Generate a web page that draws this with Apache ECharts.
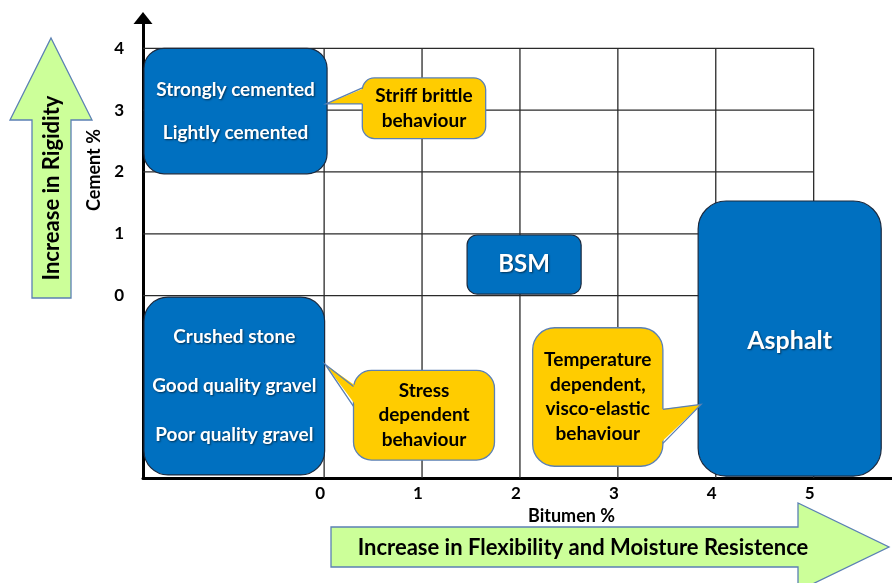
<!DOCTYPE html>
<html>
<head>
<meta charset="utf-8">
<script src="https://cdn.jsdelivr.net/npm/echarts@6/dist/echarts.min.js"></script>
<style>
  html, body { margin: 0; padding: 0; background: #fff; }
  #chart { width: 892px; height: 583px; }
</style>
</head>
<body>
<div id="chart"></div>
<script>
const bitumenTicks = [0, 1, 2, 3, 4, 5];
const cementTicks = [0, 1, 2, 3, 4];

// material zones, bitumen % (x) from/to and cement % (y) from/to
const zoneLabels = [
    ['Strongly cemented', 'Lightly cemented'],
    ['Crushed stone', 'Good quality gravel', 'Poor quality gravel'],
    ['BSM'],
    ['Asphalt']
];
const zoneX0 = [-1.84, -1.84, 1.46, 3.82];
const zoneX1 = [0.03, 0.005, 2.625, 5.69];
const zoneY0 = [1.97, -2.90, 0.024, -2.92];
const zoneY1 = [4.0, -0.024, 0.98, 1.53];
const zoneTextY = [null, null, null, -0.74];

// behaviour callouts
const noteLabels = [
    ['Striff brittle', 'behaviour'],
    ['Stress', 'dependent', 'behaviour'],
    ['Temperature', 'dependent,', 'visco-elastic', 'behaviour']
];
const noteX0 = [0.39, 0.30, 2.13];
const noteX1 = [1.65, 1.74, 3.46];
const noteY0 = [2.54, -2.66, -2.76];
const noteY1 = [3.52, -1.21, -0.52];
// pointer leaves from one side, between two heights, to a tip
const noteSide = ['left', 'left', 'right'];
const noteBaseA = [3.36, -1.47, -1.84];
const noteBaseB = [3.10, -1.79, -2.39];
const noteTipX = [0.02, 0.01, 3.85];
const noteTipY = [3.10, -1.11, -1.76];

const FONT = 'Lato, "Open Sans", sans-serif';
const zoneCorner = [20, 24, 10, 28];
const zoneFont = [19, 19, 24, 25];
const zoneGap = [43, 49, 24, 24];
const noteCorner = [12, 18, 22];

const xMin = -1.85, xMax = 5.80, yMin = -2.95, yMax = 4.49;

const gridData = [];
bitumenTicks.forEach(t => gridData.push([t, yMin, t, 4]));
cementTicks.forEach(t => gridData.push([xMin, t, 5, t]));

const chart = echarts.init(document.getElementById('chart'));

chart.setOption({
    animation: false,
    grid: { left: 143, right: 0, top: 18, bottom: 105 },
    xAxis: {
        type: 'value', min: xMin, max: xMax,
        axisLine: { onZero: false, symbol: ['none', 'triangle'], symbolSize: [17, 12], symbolOffset: [0, 12],
            lineStyle: { color: '#000', width: 3 } },
        axisTick: { show: false },
        splitLine: { show: false },
        axisLabel: { customValues: bitumenTicks, color: '#000', fontSize: 17, fontWeight: 'bold',
            fontFamily: FONT, margin: 7, padding: [0, 8, 0, 0] },
        name: 'Bitumen %', nameLocation: 'middle', nameGap: 24,
        nameTextStyle: { color: '#000', fontSize: 18, fontWeight: 'bold', fontFamily: FONT, padding: [0, 0, 0, 108] }
    },
    yAxis: {
        type: 'value', min: yMin, max: yMax,
        axisLine: { onZero: false, symbol: ['none', 'triangle'], symbolSize: [19, 12],
            lineStyle: { color: '#000', width: 3 } },
        axisTick: { show: false },
        splitLine: { show: false },
        axisLabel: { customValues: cementTicks, color: '#000', fontSize: 17, fontWeight: 'bold',
            fontFamily: FONT, margin: 19, padding: [0, 0, 5, 0] },
        name: 'Cement %', nameLocation: 'middle', nameGap: 37, nameRotate: 90,
        nameTextStyle: { color: '#000', fontSize: 18, fontWeight: 'bold', fontFamily: FONT, padding: [0, 0, 0, 156] }
    },
    graphic: [
        {
            type: 'polygon', z: 10,
            shape: { points: [[51, 38], [92, 120], [71, 120], [71, 298], [32, 298], [32, 120], [10, 120]] },
            style: { fill: '#CCFF99', stroke: '#5B80B4', lineWidth: 1.3 }
        },
        {
            type: 'text', z: 11, x: 52, y: 188, rotation: Math.PI / 2,
            style: { text: 'Increase in Rigidity', fill: '#000', fontSize: 22, fontWeight: 'bold',
                fontFamily: FONT, align: 'center', verticalAlign: 'middle' }
        },
        {
            type: 'polygon', z: 10,
            shape: { points: [[331, 527], [798, 527], [798, 503], [889, 547], [798, 591], [798, 567], [331, 567]] },
            style: { fill: '#CCFF99', stroke: '#5B80B4', lineWidth: 1.3 }
        },
        {
            type: 'text', z: 11, x: 583, y: 548,
            style: { text: 'Increase in Flexibility and Moisture Resistence', fill: '#000', fontSize: 22,
                fontWeight: 'bold', fontFamily: FONT, align: 'center', verticalAlign: 'middle' }
        }
    ],
    series: [
        {
            type: 'custom', z: 1, silent: true,
            data: gridData,
            renderItem: (params, api) => {
                const a = api.coord([api.value(0), api.value(1)]);
                const b = api.coord([api.value(2), api.value(3)]);
                return {
                    type: 'line',
                    shape: { x1: a[0], y1: a[1], x2: b[0], y2: b[1] },
                    style: { stroke: '#2a2a2a', lineWidth: 1.3 }
                };
            }
        },
        {
            type: 'custom', z: 2, silent: true,
            data: zoneLabels.map((l, i) => [zoneX0[i], zoneX1[i], zoneY0[i], zoneY1[i]]),
            renderItem: (params, api) => {
                const i = params.dataIndex;
                const p0 = api.coord([api.value(0), api.value(3)]);
                const p1 = api.coord([api.value(1), api.value(2)]);
                const ty = zoneTextY[i] == null ? (p0[1] + p1[1]) / 2 : api.coord([0, zoneTextY[i]])[1];
                return {
                    type: 'group',
                    children: [
                        {
                            type: 'rect',
                            shape: { x: p0[0], y: p0[1], width: p1[0] - p0[0], height: p1[1] - p0[1], r: zoneCorner[i] },
                            style: { fill: '#0070C0', stroke: '#1b2a3f', lineWidth: 1.2 }
                        },
                        {
                            type: 'text', x: (p0[0] + p1[0]) / 2, y: ty,
                            style: {
                                text: zoneLabels[i].join('\n'), fill: '#fff', fontSize: zoneFont[i],
                                fontWeight: 'bold', fontFamily: FONT, align: 'center', verticalAlign: 'middle',
                                lineHeight: zoneGap[i],
                                textShadowColor: 'rgba(0,0,0,0.55)', textShadowBlur: 2,
                                textShadowOffsetX: 1, textShadowOffsetY: 1
                            }
                        }
                    ]
                };
            }
        },
        {
            type: 'custom', z: 3, silent: true,
            data: noteLabels.map((l, i) => [noteX0[i], noteX1[i], noteY0[i], noteY1[i]]),
            renderItem: (params, api) => {
                const i = params.dataIndex;
                const a = api.coord([api.value(0), api.value(3)]);
                const b = api.coord([api.value(1), api.value(2)]);
                const left = noteSide[i] === 'left';
                const ex = left ? a[0] : b[0];
                const inx = left ? ex + 3 : ex - 3;
                const yA = api.coord([0, noteBaseA[i]])[1];
                const yB = api.coord([0, noteBaseB[i]])[1];
                const tip = api.coord([noteTipX[i], noteTipY[i]]);
                const fill = '#FFCC00', edge = '#5B80B4';
                return {
                    type: 'group',
                    children: [
                        {
                            type: 'rect',
                            shape: { x: a[0], y: a[1], width: b[0] - a[0], height: b[1] - a[1], r: noteCorner[i] },
                            style: { fill: fill, stroke: edge, lineWidth: 1.3 }
                        },
                        {
                            type: 'polygon',
                            shape: { points: [[inx, yA], tip, [inx, yB]] },
                            style: { fill: fill }
                        },
                        {
                            type: 'polyline',
                            shape: { points: [[ex, yA], tip, [ex, yB]] },
                            style: { fill: null, stroke: edge, lineWidth: 1.3 }
                        },
                        {
                            type: 'text', x: (a[0] + b[0]) / 2, y: (a[1] + b[1]) / 2,
                            style: {
                                text: noteLabels[i].join('\n'), fill: '#000', fontSize: 19, fontWeight: 'bold',
                                fontFamily: FONT, align: 'center', verticalAlign: 'middle', lineHeight: 24.5
                            }
                        }
                    ]
                };
            }
        }
    ]
});
</script>
</body>
</html>
